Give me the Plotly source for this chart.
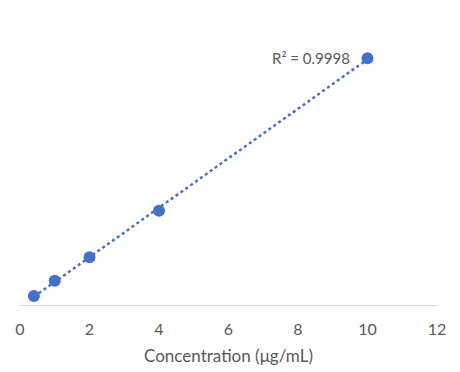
import numpy as np
import plotly.graph_objects as go

concentration = [0.4, 1, 2, 4, 10]
absorbance = [0.036, 0.097, 0.191, 0.377, 0.987]
x_ticks = [0, 2, 4, 6, 8, 10, 12]
r2_label = "R² = 0.9998"

xs = np.array(concentration)
ys = np.array(absorbance)
slope, intercept = np.polyfit(xs, ys, 1)
fit_x = [min(concentration), max(concentration)]
fit_y = [slope * v + intercept for v in fit_x]

blue = "#4472C4"
grey = "#595959"
font_family = "Lato, Open Sans, sans-serif"

fig = go.Figure()
fig.add_trace(go.Scatter(x=fit_x, y=fit_y, mode="lines",
                         line=dict(color=blue, width=2.5, dash="dot"),
                         hoverinfo="skip", showlegend=False))
fig.add_trace(go.Scatter(x=concentration, y=absorbance, mode="markers",
                         marker=dict(color=blue, size=12),
                         showlegend=False))
fig.add_annotation(x=max(concentration), y=max(absorbance), text=r2_label,
                   showarrow=False, xanchor="right", yanchor="middle", xshift=-16,
                   font=dict(family=font_family, size=15, color=grey))

fig.update_layout(
    width=452, height=364,
    margin=dict(l=12, r=23, t=10, b=67, autoexpand=False),
    paper_bgcolor="white", plot_bgcolor="white",
    font=dict(family=font_family, color=grey),
    xaxis=dict(range=[0, 12], tickvals=x_ticks, showgrid=False, zeroline=False,
               showline=True, linecolor="#D9D9D9", linewidth=1,
               ticks="", ticklabelstandoff=10, tickfont=dict(size=16, color=grey),
               automargin=False,
               title=dict(text="Concentration (μg/mL)", font=dict(size=17, color=grey), standoff=12)),
    yaxis=dict(range=[0, 1.148], visible=False),
)
fig.write_html("out.html")
